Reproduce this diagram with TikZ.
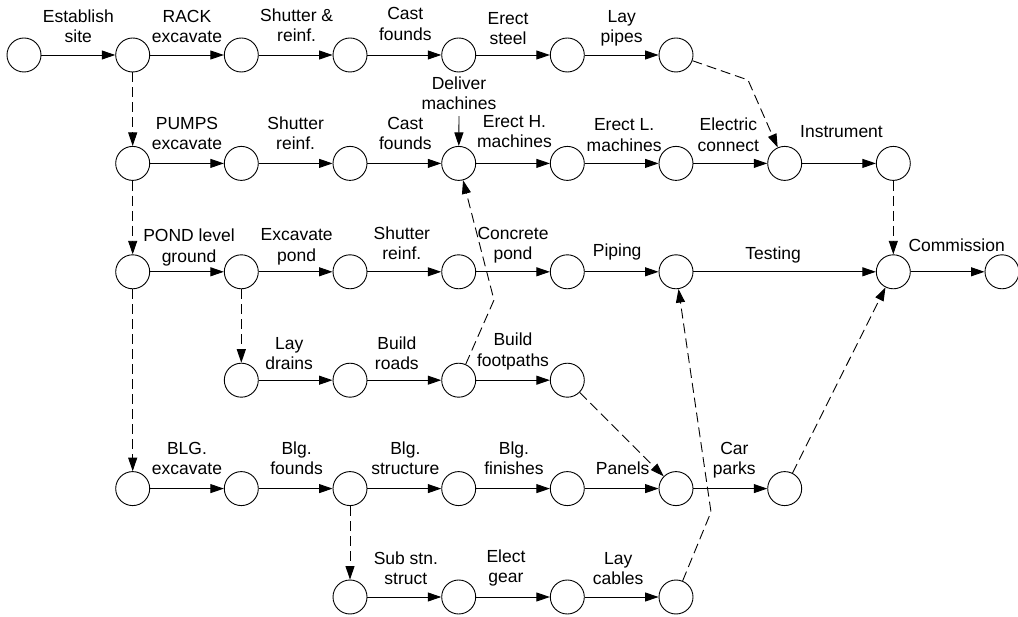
\documentclass[tikz,border=0pt]{standalone}
\usepackage{fontspec}
\usetikzlibrary{arrows.meta}
\newfontfamily\labfamily{Liberation Sans}
\begin{document}
\begin{tikzpicture}[x=1pt,y=-1pt,
  ev/.style={circle,draw,line width=0.9pt,minimum size=34pt,inner sep=0pt},
  act/.style={line width=0.9pt,-{Triangle[length=13.5pt,width=9pt]}},
  dum/.style={act,dash pattern=on 10pt off 5pt},
  lab/.style={anchor=south,inner sep=0pt,align=center,font=\labfamily\fontsize{17.5}{20.5}\selectfont,yshift=#1},
  lab/.default=5.85pt]
\useasboundingbox (0,0) rectangle (1018,617);
% row 1
\node[ev] (a1) at (24,55) {};
\node[ev] (a2) at (132.7,55) {};
\node[ev] (a3) at (241.3,55) {};
\node[ev] (a4) at (350,55) {};
\node[ev] (a5) at (458.7,55) {};
\node[ev] (a6) at (567.3,55) {};
\node[ev] (a7) at (676,55) {};
% row 2
\node[ev] (b2) at (132.7,163.4) {};
\node[ev] (b3) at (241.3,163.4) {};
\node[ev] (b4) at (350,163.4) {};
\node[ev] (b5) at (458.7,163.4) {};
\node[ev] (b6) at (567.3,163.4) {};
\node[ev] (b7) at (676,163.4) {};
\node[ev] (b8) at (784.7,163.4) {};
\node[ev] (b9) at (893.3,163.4) {};
% row 3
\node[ev] (c2) at (132.7,271.8) {};
\node[ev] (c3) at (241.3,271.8) {};
\node[ev] (c4) at (350,271.8) {};
\node[ev] (c5) at (458.7,271.8) {};
\node[ev] (c6) at (567.3,271.8) {};
\node[ev] (c7) at (676,271.8) {};
\node[ev] (c9) at (893.3,271.8) {};
\node[ev] (c10) at (1002,271.8) {};
% row 4
\node[ev] (d3) at (241.3,380.2) {};
\node[ev] (d4) at (350,380.2) {};
\node[ev] (d5) at (458.7,380.2) {};
\node[ev] (d6) at (567.3,380.2) {};
% row 5
\node[ev] (e2) at (132.7,488.6) {};
\node[ev] (e3) at (241.3,488.6) {};
\node[ev] (e4) at (350,488.6) {};
\node[ev] (e5) at (458.7,488.6) {};
\node[ev] (e6) at (567.3,488.6) {};
\node[ev] (e7) at (676,488.6) {};
\node[ev] (e8) at (784.7,488.6) {};
% row 6
\node[ev] (f4) at (350,597) {};
\node[ev] (f5) at (458.7,597) {};
\node[ev] (f6) at (567.3,597) {};
\node[ev] (f7) at (676,597) {};
% bend points
\coordinate (k1) at (748,80);
\coordinate (k2) at (494,300);
\coordinate (k3) at (711,512);
% row 1 activities
\draw[act] (a1) -- node[lab]{Establish\\site\strut} (a2);
\draw[act] (a2) -- node[lab]{RACK\\excavate\strut} (a3);
\draw[act] (a3) -- node[lab=6.85pt,xshift=1pt]{Shutter \&\\reinf.\strut} (a4);
\draw[act] (a4) -- node[lab=8.15pt,xshift=1pt]{Cast\\founds\strut} (a5);
\draw[act] (a5) -- node[lab=3.85pt,xshift=-5pt]{Erect\\steel\strut} (a6);
\draw[act] (a6) -- node[lab]{Lay\\pipes\strut} (a7);
% row 2 activities
\draw[act] (b2) -- node[lab=7.25pt]{PUMPS\\excavate\strut} (b3);
\draw[act] (b3) -- node[lab=7.25pt]{Shutter\\reinf.\strut} (b4);
\draw[act] (b4) -- node[lab=7.25pt,xshift=1pt]{Cast\\founds\strut} (b5);
\draw[act] (b5) -- node[lab=9.25pt,xshift=1.5pt]{Erect H.\\machines\strut} (b6);
\draw[act] (b6) -- node[lab=5.55pt,xshift=2.5pt]{Erect L.\\machines\strut} (b7);
\draw[act] (b7) -- node[lab=5.55pt,xshift=-2pt]{Electric\\connect\strut} (b8);
\draw[act] (b8) -- node[lab=18.95pt,xshift=2.5pt]{Instrument\strut} (b9);
\node[lab=0pt] (dm) at (459,116.15) {Deliver\\machines\strut};
\draw[act] (dm.south) -- (b5);
% row 3 activities
\draw[act] (c2) -- node[lab=2.95pt,xshift=2pt]{POND level\\ground\strut} (c3);
\draw[act] (c3) -- node[lab=3.95pt,xshift=1pt]{Excavate\\pond\strut} (c4);
\draw[act] (c4) -- node[lab=5.65pt,xshift=-2.5pt]{Shutter\\reinf.\strut} (c5);
\draw[act] (c5) -- node[lab=5.65pt]{Concrete\\pond\strut} (c6);
\draw[act] (c6) -- node[lab=8.65pt,xshift=-4.5pt]{Piping\strut} (c7);
\draw[act] (c7) -- node[lab=5.65pt,xshift=-11.5pt]{Testing\strut} (c9);
\draw[act] (c9) -- node[lab=13.95pt,xshift=9pt]{Commission\strut} (c10);
% row 4 activities
\draw[act] (d3) -- node[lab=4.05pt,xshift=-6.5pt]{Lay\\drains\strut} (d4);
\draw[act] (d4) -- node[lab=4.05pt,xshift=-7.5pt]{Build\\roads\strut} (d5);
\draw[act] (d5) -- node[lab=7.35pt]{Build\\footpaths\strut} (d6);
% row 5 activities
\draw[act] (e2) -- node[lab=7.45pt]{BLG.\\excavate\strut} (e3);
\draw[act] (e3) -- node[lab=7.45pt,xshift=1pt]{Blg.\\founds\strut} (e4);
\draw[act] (e4) -- node[lab=7.45pt,xshift=1pt]{Blg.\\structure\strut} (e5);
\draw[act] (e5) -- node[lab=7.45pt,xshift=1pt]{Blg.\\finishes\strut} (e6);
\draw[act] (e6) -- node[lab=7.45pt,xshift=1pt]{Panels\strut} (e7);
\draw[act] (e7) -- node[lab=7.45pt,xshift=4pt]{Car\\parks\strut} (e8);
% row 6 activities
\draw[act] (f4) -- node[lab=5.85pt,xshift=1.5pt]{Sub stn.\\struct\strut} (f5);
\draw[act] (f5) -- node[lab=7.85pt,xshift=-7pt]{Elect\\gear\strut} (f6);
\draw[act] (f6) -- node[lab=5.85pt,xshift=-3.5pt]{Lay\\cables\strut} (f7);
% dummies
\draw[dum] (a2) -- (b2);
\draw[dum] (b2) -- (c2);
\draw[dum] (c2) -- (e2);
\draw[dum] (c3) -- (d3);
\draw[dum] (e4) -- (f4);
\draw[dum] (b9) -- (c9);
\draw[dum] (a7) -- (k1) -- (b8);
\draw[dum] (d5) -- (k2) -- (b5);
\draw[dum] (f7) -- (k3) -- (c7);
\draw[dum] (d6) -- (e7);
\draw[dum] (e8) -- (c9);
\end{tikzpicture}
\end{document}
